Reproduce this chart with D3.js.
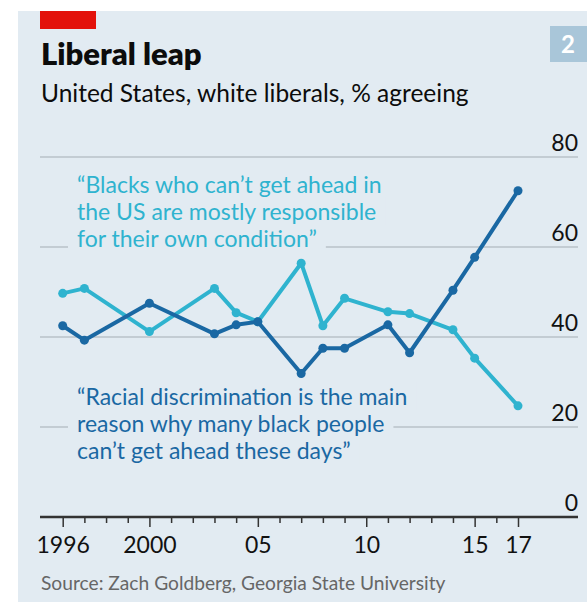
<!DOCTYPE html>
<html>
<head>
<meta charset="utf-8">
<script src="https://cdn.jsdelivr.net/npm/d3@7"></script>
<style>
  body { margin: 0; background: #fff; }
  svg { display: block; font-family: Lato, "Open Sans", sans-serif; }
</style>
</head>
<body>
<div id="chart"></div>
<script>
// survey years and % agreeing
let years = [1996, 1997, 2000, 2003, 2004, 2005, 2007, 2008, 2009, 2011, 2012, 2014, 2015, 2017];
let ownCondition = [49.7, 50.8, 41.2, 50.8, 45.4, 43.4, 56.4, 42.5, 48.6, 45.6, 45.2, 41.6, 35.3, 24.7];
let discrimination = [42.5, 39.3, 47.5, 40.7, 42.7, 43.4, 31.9, 37.5, 37.5, 42.7, 36.5, 50.4, 57.7, 72.5];
let yTicks = [0, 20, 40, 60, 80];
let xLabels = {1996: "1996", 2000: "2000", 2005: "05", 2010: "10", 2015: "15", 2017: "17"};
let ownLines = ["\u201cBlacks who can\u2019t get ahead in", "the US are mostly responsible", "for their own condition\u201d"];
let discLines = ["\u201cRacial discrimination is the main", "reason why many black people", "can\u2019t get ahead these days\u201d"];

let width = 587, height = 603;
let bg = "#e2ebf2", light = "#2fb3cf", dark = "#1a68a3";

let svg = d3.select("#chart").append("svg")
    .attr("width", width)
    .attr("height", height);

svg.append("rect")
    .attr("x", 18).attr("y", 11)
    .attr("width", width - 18).attr("height", 591)
    .attr("fill", bg);

svg.append("rect")
    .attr("x", 40).attr("y", 11)
    .attr("width", 56).attr("height", 18)
    .attr("fill", "#e3120b");

svg.append("rect")
    .attr("x", 550).attr("y", 26)
    .attr("width", 37).attr("height", 36)
    .attr("fill", "#a9c6d9");
svg.append("text")
    .attr("x", 568).attr("y", 53)
    .attr("text-anchor", "middle")
    .attr("fill", "#fff")
    .style("font-weight", 700)
    .style("font-size", "24px")
    .text("2");

svg.append("text")
    .attr("x", 41).attr("y", 65)
    .style("font-weight", 800)
    .style("font-size", "31px")
    .attr("fill", "#0c0c0c")
    .text("Liberal leap");

svg.append("text")
    .attr("x", 41).attr("y", 102)
    .style("font-size", "24.5px")
    .attr("fill", "#0c0c0c")
    .text("United States, white liberals, % agreeing");

let x = d3.scaleLinear().domain([1996, 2017]).range([62.7, 518]);
let y = d3.scaleLinear().domain([0, 80]).range([517, 157]);

// gridlines
svg.selectAll(".grid")
    .data(yTicks.filter(d => d > 0))
    .enter().append("line")
    .attr("class", "grid")
    .attr("x1", 40).attr("x2", 578)
    .attr("y1", d => y(d)).attr("y2", d => y(d))
    .attr("stroke", "#c3ccd3")
    .attr("stroke-width", 2);

svg.selectAll(".ylab")
    .data(yTicks)
    .enter().append("text")
    .attr("class", "ylab")
    .attr("x", 578)
    .attr("y", d => y(d) - 6)
    .attr("text-anchor", "end")
    .style("font-size", "23px")
    .attr("fill", "#111")
    .text(d => d);

// x axis
let xAxis = d3.axisBottom(x)
    .tickValues(d3.range(1996, 2018))
    .tickSize(6)
    .tickFormat(d => xLabels[d] || "");

let gx = svg.append("g")
    .attr("transform", "translate(0," + y(0) + ")")
    .call(xAxis);
gx.select(".domain").remove();
gx.selectAll(".tick line")
    .attr("stroke", "#333")
    .attr("stroke-width", 1.5)
    .attr("y2", d => xLabels[d] ? 10 : 6);
gx.selectAll(".tick text")
    .attr("y", 36)
    .attr("dy", 0)
    .attr("fill", "#111")
    .style("font-family", "Lato, sans-serif")
    .style("font-size", "23px");
svg.append("line")
    .attr("x1", 40).attr("x2", 578)
    .attr("y1", y(0)).attr("y2", y(0))
    .attr("stroke", "#333")
    .attr("stroke-width", 2.5);

svg.append("text")
    .attr("x", 41).attr("y", 590)
    .style("font-size", "19.2px")
    .attr("fill", "#666")
    .text("Source: Zach Goldberg, Georgia State University");

// annotations with background patches that hide the gridlines
function note(lines, top, color) {
  let g = svg.append("g");
  lines.forEach((t, i) => {
    let txt = g.append("text")
        .attr("x", 77).attr("y", top + i * 27)
        .style("font-size", "23px")
        .attr("fill", color)
        .text(t);
    let b = txt.node().getBBox();
    g.insert("rect", "text")
        .attr("x", b.x - 9).attr("y", b.y)
        .attr("width", b.width + 18).attr("height", b.height)
        .attr("fill", bg);
  });
}
note(ownLines, 193, light);
note(discLines, 405, dark);

let line = d3.line()
    .x((d, i) => x(years[i]))
    .y(d => y(d));

[[ownCondition, light], [discrimination, dark]].forEach(([vals, c]) => {
  svg.append("path")
      .datum(vals)
      .attr("d", line)
      .attr("fill", "none")
      .attr("stroke", c)
      .attr("stroke-width", 4)
      .attr("stroke-linejoin", "round");
  svg.selectAll(null)
      .data(vals)
      .enter().append("circle")
      .attr("cx", (d, i) => x(years[i]))
      .attr("cy", d => y(d))
      .attr("r", 4.5)
      .attr("fill", c);
});
</script>
</body>
</html>
